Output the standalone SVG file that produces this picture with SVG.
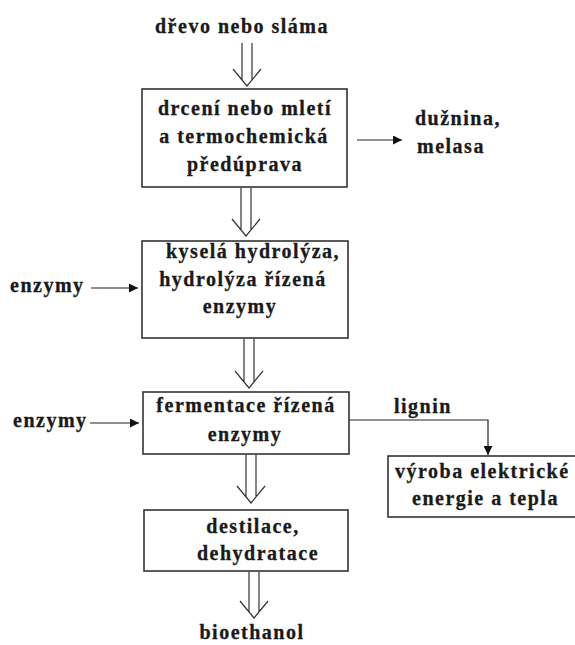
<svg xmlns="http://www.w3.org/2000/svg" width="575" height="645" viewBox="0 0 575 645">
<defs>
<style>
text{font-family:"Liberation Serif","Times New Roman",serif;font-weight:bold;font-size:20px;letter-spacing:1.5px;fill:#1a1a1a;stroke:#1a1a1a;stroke-width:0.3}
.m{text-anchor:middle}
.box{fill:#fff;stroke:#333;stroke-width:1.6}
.ln{fill:none;stroke:#222;stroke-width:1.2}
.dbl{fill:none;stroke:#333;stroke-width:1.2}
</style>
<marker id="ah" viewBox="0 0 10 10" refX="10" refY="5" markerWidth="9" markerHeight="9" markerUnits="userSpaceOnUse" orient="auto">
<path d="M0,0 L10,5 L0,10 Z" fill="#111"/>
</marker>
</defs>
<rect width="575" height="645" fill="#fff"/>
<g id="connectors">
<path class="dbl" d="M242,43 V80 M252,43 V80 M233,69 L247,86 L261,69"/>
<path class="dbl" d="M241,188 V230 M251,188 V230 M232,219 L246,236 L260,219"/>
<path class="dbl" d="M244,339 V382 M254,339 V382 M235,371 L249,388 L263,371"/>
<path class="dbl" d="M246,455 V497 M256,455 V497 M237,486 L251,503 L265,486"/>
<path class="dbl" d="M249,572 V612 M259,572 V612 M240,601 L254,618 L268,601"/>
<path class="ln" d="M357,140 H402" marker-end="url(#ah)"/>
<path class="ln" d="M91,288 H138" marker-end="url(#ah)"/>
<path class="ln" d="M90,423 H139" marker-end="url(#ah)"/>
<path class="ln" d="M349,420 H488 V455" marker-end="url(#ah)"/>
</g>
<g id="source"><text class="m" x="242" y="33">dřevo nebo sláma</text></g>
<g id="box1">
<rect class="box" x="142" y="89" width="205" height="98"/>
<text class="m" x="245" y="115">drcení nebo mletí</text>
<text class="m" x="244" y="143">a termochemická</text>
<text class="m" x="245" y="171">předúprava</text>
</g>
<g id="pulp">
<text x="415" y="125">dužnina,</text>
<text x="417" y="153">melasa</text>
</g>
<g id="box2">
<rect class="box" x="142" y="241" width="206" height="97"/>
<text class="m" x="253" y="258">kyselá hydrolýza,</text>
<text class="m" x="243" y="286">hydrolýza řízená</text>
<text class="m" x="240" y="313">enzymy</text>
</g>
<g id="enz1"><text x="10" y="292">enzymy</text></g>
<g id="box3">
<rect class="box" x="143" y="392" width="206" height="62"/>
<text class="m" x="246" y="412">fermentace řízená</text>
<text class="m" x="245" y="441">enzymy</text>
</g>
<g id="enz2"><text x="13" y="427">enzymy</text></g>
<g id="lignin"><text x="394" y="413">lignin</text></g>
<g id="box4">
<rect class="box" x="388" y="456" width="200" height="61"/>
<text x="395" y="478">výroba elektrické</text>
<text x="412" y="505">energie a tepla</text>
</g>
<g id="box5">
<rect class="box" x="144" y="510" width="204" height="61"/>
<text class="m" x="253" y="533">destilace,</text>
<text class="m" x="258" y="560">dehydratace</text>
</g>
<g id="product"><text class="m" x="252" y="639">bioethanol</text></g>
</svg>
